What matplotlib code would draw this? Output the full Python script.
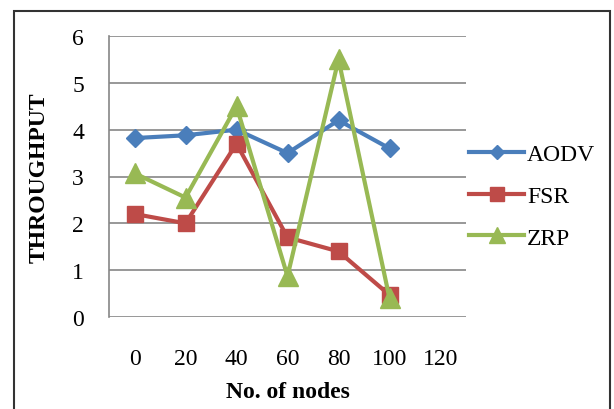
import matplotlib
matplotlib.use("Agg")
import matplotlib.pyplot as plt
from matplotlib.patches import Rectangle

categories = ["0", "20", "40", "60", "80", "100", "120"]
aodv = [3.82, 3.88, 4.0, 3.5, 4.2, 3.6]
fsr = [2.2, 2.0, 3.7, 1.7, 1.4, 0.47]
zrp = [3.07, 2.55, 4.5, 0.87, 5.5, 0.4]
yticks = [0, 1, 2, 3, 4, 5, 6]

plt.rcParams['font.family'] = ['Liberation Serif', 'DejaVu Serif']

fig = plt.figure(figsize=(6.14, 4.10), dpi=100)
W, H = 614, 410
ax = fig.add_axes([109 / W, 1 - 318 / H, (466 - 109) / W, (318 - 37) / H])

x = list(range(len(aodv)))
ax.plot(x, aodv, color='#4A7EBB', lw=3, marker='D', ms=9, label='AODV')
ax.plot(x, fsr, color='#BE4B48', lw=3, marker='s', ms=12, label='FSR')
ax.plot(x, zrp, color='#98B954', lw=3, marker='^', ms=14, label='ZRP')

ax.set_xlim(-0.5, len(categories) - 0.5)
ax.set_ylim(0, 6)
ax.set_yticks(yticks)
ax.set_yticklabels([str(v) for v in yticks], fontsize=17)
ax.set_xticks(range(len(categories)))
ax.set_xticklabels(categories, fontsize=17)
ax.tick_params(axis='y', length=0, pad=18)
ax.tick_params(axis='x', length=0, pad=22)
ax.grid(axis='y', color='#868686', lw=1.2)
ax.set_axisbelow(True)
for s in ['top', 'right', 'bottom']:
    ax.spines[s].set_visible(False)
ax.spines['left'].set_color('#868686')
ax.spines['left'].set_linewidth(1.2)

ax.set_ylabel('THROUGHPUT', fontsize=17, fontweight='bold', labelpad=16)
ax.set_xlabel('No. of nodes', fontsize=17, fontweight='bold', labelpad=9)

leg = ax.legend(loc='center left', bbox_to_anchor=(0.95, 0.43), frameon=False,
                fontsize=17, handlelength=2.3, handletextpad=0.15, labelspacing=0.85,
                markerscale=0.8)

fig.patches.append(Rectangle((14 / W, -0.05), (610 - 14) / W, 1 - 12 / H + 0.05,
                             transform=fig.transFigure, fill=False,
                             edgecolor='#333333', lw=1.5))

fig.savefig('out.png', dpi=100)
